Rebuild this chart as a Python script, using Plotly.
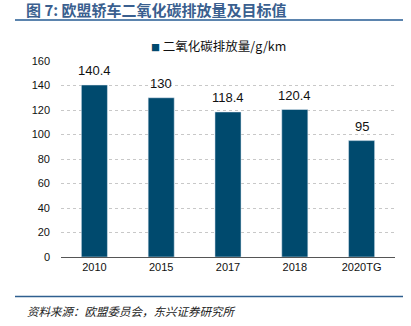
import plotly.graph_objects as go

categories = ["2010", "2015", "2017", "2018", "2020TG"]
values = [140.4, 130, 118.4, 120.4, 95]
labels = ["140.4", "130", "118.4", "120.4", "95"]
series_name = "二氧化碳排放量/g/km"
title = "图 7: 欧盟轿车二氧化碳排放量及目标值"
source = "资料来源：欧盟委员会，东兴证券研究所"

W, H = 411, 326
L, R, T, B = 61, 16, 61, 68.5
pw, ph = W - L - R, H - T - B
BAR = "#004A6E"

def px_x(x):
    return (x - L) / pw

def px_y(y):
    return (H - B - y) / ph

fig = go.Figure()
fig.add_trace(go.Bar(
    x=categories, y=values, name=series_name,
    marker=dict(color=BAR), width=0.39, showlegend=False,
))
# data labels: category axes take the category index for annotations
for i, (v, t) in enumerate(zip(values, labels)):
    fig.add_annotation(x=i, y=v, text=t, showarrow=False, yanchor="bottom",
                       yshift=5, font=dict(size=13, color="#111111",
                                           family="Liberation Sans, Arial"))
fig.update_layout(
    width=W, height=H,
    margin=dict(l=L, r=R, t=T, b=B),
    paper_bgcolor="white", plot_bgcolor="white",
    showlegend=False,
    font=dict(family="Liberation Sans, Arial", size=11, color="#111111"),
)
fig.update_yaxes(range=[0, 160], dtick=20, showgrid=True, gridcolor="#C8C8C8",
                 griddash="dot", gridwidth=1, zeroline=False,
                 tickfont=dict(size=11), ticks="", ticklabelstandoff=10)
fig.update_xaxes(type="category", range=[-0.5, len(categories) - 0.5],
                 showline=True, linecolor="#555555", linewidth=1,
                 ticks="", tickfont=dict(size=11))
# legend (drawn as text)
fig.add_annotation(text="<span style='color:%s;font-size:9px'>■</span> %s" % (BAR, series_name),
                   xref="paper", yref="paper", x=px_x(149), y=px_y(45),
                   xanchor="left", yanchor="middle", showarrow=False,
                   font=dict(family="Noto Sans CJK SC", size=12.5, color="#111111"))
# title
fig.add_annotation(text="<b>" + title + "</b>", xref="paper", yref="paper",
                   x=px_x(24), y=px_y(9.5), xanchor="left", yanchor="middle",
                   showarrow=False,
                   font=dict(family="Noto Sans CJK SC", size=15, color="#3A5F8F"))
fig.add_shape(type="line", xref="paper", yref="paper", x0=px_x(15), x1=px_x(403),
              y0=px_y(20), y1=px_y(20), line=dict(color="#5B84AE", width=2))
fig.add_shape(type="line", xref="paper", yref="paper", x0=px_x(15), x1=px_x(403),
              y0=px_y(297), y1=px_y(297), line=dict(color="#2F5F8F", width=1.5))
fig.add_annotation(text="<i>" + source + "</i>", xref="paper", yref="paper",
                   x=px_x(25), y=px_y(312), xanchor="left", yanchor="middle",
                   showarrow=False,
                   font=dict(family="Noto Sans CJK SC", size=11.5, color="#222222"))

fig.write_html("out.html")
